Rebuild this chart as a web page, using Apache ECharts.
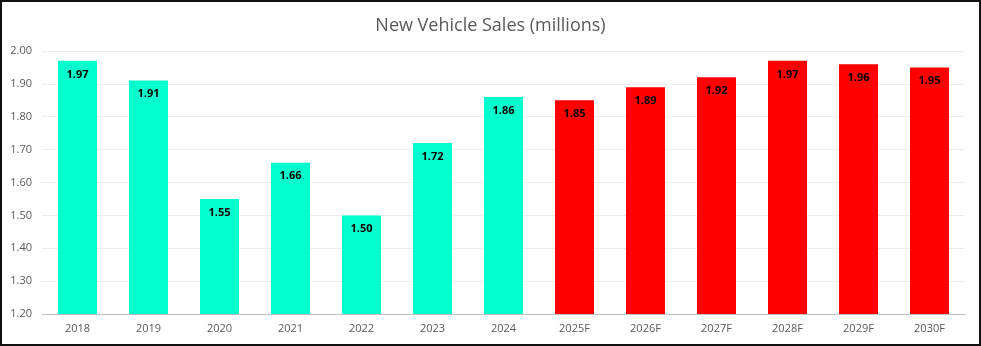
<!DOCTYPE html>
<html><head><meta charset="utf-8">
<script src="https://cdn.jsdelivr.net/npm/echarts@6/dist/echarts.min.js"></script>
<style>
html,body{margin:0;padding:0;background:#fff;}
#c{width:981px;height:346px;box-sizing:border-box;border:2px solid #111;}
</style></head>
<body><div id="c"></div>
<script>
const categories = ['2018','2019','2020','2021','2022','2023','2024','2025F','2026F','2027F','2028F','2029F','2030F'];
const values = [1.97,1.91,1.55,1.66,1.50,1.72,1.86,1.85,1.89,1.92,1.97,1.96,1.95];
const forecast = [false,false,false,false,false,false,false,true,true,true,true,true,true];
const title = 'New Vehicle Sales (millions)';

const chart = echarts.init(document.getElementById('c'), null, {renderer:'canvas'});
chart.setOption({
  animation:false,
  title:{text:title,left:'center',top:10,textStyle:{fontFamily:'Open Sans',fontSize:18,fontWeight:'normal',color:'#595959'}},
  grid:{left:40,right:14,top:49,bottom:30},
  xAxis:{type:'category',data:categories,axisTick:{show:false},
    axisLine:{lineStyle:{color:'#bfbfbf',width:1}},
    axisLabel:{color:'#595959',fontFamily:'Open Sans',fontSize:11,margin:9}},
  yAxis:{type:'value',min:1.2,max:2.0,interval:0.1,
    axisLabel:{color:'#595959',fontFamily:'Open Sans',fontSize:11,formatter:v=>v.toFixed(2),margin:10},
    splitLine:{lineStyle:{color:'#ececec'}},axisLine:{show:false},axisTick:{show:false}},
  series:[{type:'bar',barWidth:39,
    data:values.map((v,i)=>({value:v,itemStyle:{color:forecast[i]?'#ff0000':'#00ffcc'}})),
    label:{show:true,position:'insideTop',distance:8,formatter:p=>p.value.toFixed(2),
      color:'#000',fontWeight:'bold',fontFamily:'Open Sans',fontSize:11}}]
});
</script></body></html>
